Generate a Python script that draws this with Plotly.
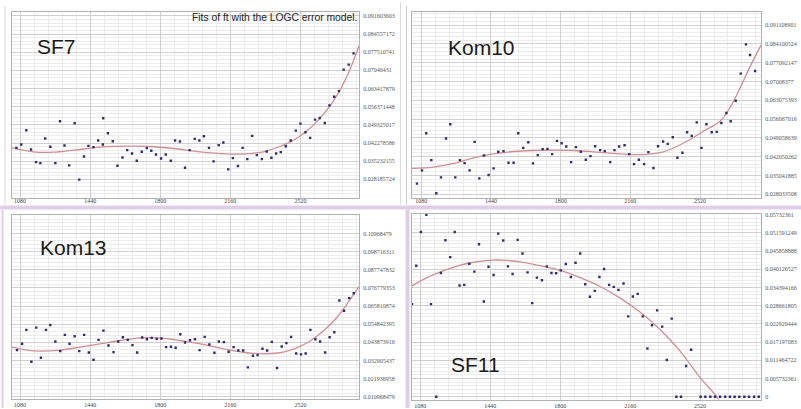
import plotly.graph_objects as go

W, H = 801, 409

# ---------------- data ----------------
X_TICKS = [1080, 1440, 1800, 2160, 2520]
X_TICKTEXT = ["1080", "1440", "1800", "2160", "2520"]

# SF7
sf7_x = [1061, 1086, 1112, 1136, 1162, 1184, 1209, 1235, 1261, 1285,
         1308, 1332, 1360, 1384, 1408, 1431, 1457, 1481, 1505, 1507,
         1531, 1556, 1580, 1606, 1630, 1655, 1679, 1705, 1731, 1754,
         1778, 1804, 1828, 1854, 1876, 1901, 1927, 1951, 1977, 2001,
         2024, 2050, 2074, 2100, 2124, 2149, 2173, 2199, 2223, 2247,
         2272, 2296, 2322, 2347, 2371, 2395, 2419, 2445, 2470, 2496,
         2520, 2546, 2570, 2595, 2619, 2645, 2669, 2693, 2718, 2742,
         2768, 2793]
sf7_y = [0.04041, 0.04170, 0.04723, 0.03977, 0.03488, 0.03449, 0.04401, 0.04080, 0.03449, 0.05070,
         0.04131, 0.03359, 0.04993, 0.02806, 0.03706, 0.04118, 0.04067, 0.04324, 0.04170, 0.05186,
         0.04607, 0.04298, 0.03346, 0.03668, 0.03951, 0.03822, 0.03539, 0.03887, 0.04028, 0.03925,
         0.03784, 0.03629, 0.03784, 0.03539, 0.04324, 0.04285, 0.03269, 0.03951, 0.04388, 0.04324,
         0.04491, 0.04041, 0.03514, 0.04144, 0.04247, 0.03205, 0.03642, 0.03333, 0.04041, 0.03604,
         0.04504, 0.03758, 0.03604, 0.03899, 0.03655, 0.03822, 0.03874, 0.04105, 0.04324, 0.04710,
         0.04980, 0.04645, 0.04427, 0.05134, 0.05199, 0.05006, 0.05687, 0.06022, 0.06240, 0.07077,
         0.07270, 0.07707]
sf7_fit_x = [1038, 1150, 1252, 1355, 1491, 1645, 1748, 1867, 2004, 2141,
             2243, 2329, 2414, 2482, 2551, 2619, 2688, 2756, 2821]
sf7_fit_y = [0.04041, 0.03887, 0.03874, 0.03951, 0.04067, 0.04105, 0.04093, 0.04015, 0.03887, 0.03809,
             0.03809, 0.03887, 0.04093, 0.04324, 0.04684, 0.05173, 0.05842, 0.06768, 0.08003]
sf7_ticktext = ["0.028185724", "0.035232155", "0.042278586", "0.049325017", "0.056371448",
                "0.063417879", "0.07046431", "0.077510741", "0.084557172", "0.091603603"]

# Kom10
kom10_x = [1058, 1084, 1106, 1132, 1158, 1182, 1208, 1230, 1256, 1280,
           1304, 1330, 1356, 1380, 1404, 1428, 1454, 1478, 1505, 1531,
           1557, 1581, 1607, 1633, 1657, 1682, 1707, 1732, 1756, 1781,
           1805, 1829, 1854, 1879, 1904, 1930, 1954, 1978, 2004, 2028,
           2056, 2078, 2102, 2130, 2154, 2179, 2204, 2231, 2253, 2279,
           2303, 2329, 2353, 2379, 2403, 2429, 2453, 2477, 2503, 2527,
           2553, 2580, 2606, 2630, 2656, 2678, 2704, 2730, 2757, 2778,
           2804]
kom10_y = [0.03199, 0.03694, 0.05079, 0.04077, 0.02841, 0.03434, 0.04881, 0.05413, 0.03434, 0.04077,
           0.03966, 0.03694, 0.04758, 0.03397, 0.04251, 0.03521, 0.03768, 0.04387, 0.04411, 0.03979,
           0.03979, 0.05079, 0.04535, 0.04745, 0.03954, 0.04263, 0.04486, 0.04498, 0.04300, 0.04795,
           0.04708, 0.04585, 0.04003, 0.04560, 0.04387, 0.04090, 0.04226, 0.04597, 0.04449, 0.04411,
           0.04003, 0.04449, 0.04585, 0.04634, 0.04300, 0.03929, 0.04090, 0.03929, 0.04374, 0.03781,
           0.04597, 0.04770, 0.04684, 0.04931, 0.04164, 0.04350, 0.05116, 0.04980, 0.05487, 0.04535,
           0.05413, 0.05116, 0.05129, 0.05463, 0.05834, 0.05525, 0.06291, 0.07305, 0.08394, 0.07998,
           0.07404]
kom10_fit_x = [1032, 1144, 1247, 1351, 1454, 1557, 1660, 1781, 1866, 1970,
               2073, 2159, 2245, 2331, 2400, 2468, 2537, 2623, 2675, 2726,
               2778, 2835]
kom10_fit_y = [0.03768, 0.03818, 0.03954, 0.04164, 0.04312, 0.04399, 0.04436, 0.04449, 0.04436, 0.04387,
               0.04325, 0.04288, 0.04288, 0.04387, 0.04585, 0.04844, 0.05154, 0.05524, 0.06044, 0.06761,
               0.07565, 0.08369]
kom10_ticktext = ["0.028033508", "0.035041885", "0.042050262", "0.049058639", "0.056067016",
                  "0.063075393", "0.07008377", "0.077092147", "0.084100524", "0.091108901"]

# Kom13
kom13_x = [1064, 1090, 1112, 1138, 1163, 1187, 1213, 1235, 1261, 1286,
           1310, 1334, 1360, 1384, 1409, 1433, 1457, 1483, 1508, 1534,
           1560, 1584, 1608, 1633, 1657, 1681, 1707, 1731, 1756, 1782,
           1806, 1830, 1855, 1879, 1903, 1927, 1953, 1978, 2002, 2028,
           2052, 2078, 2101, 2127, 2151, 2177, 2201, 2226, 2250, 2276,
           2300, 2325, 2349, 2373, 2400, 2424, 2448, 2472, 2498, 2523,
           2547, 2571, 2597, 2621, 2647, 2670, 2694, 2720, 2744, 2770,
           2794]
kom13_y = [0.03920, 0.04301, 0.05142, 0.03220, 0.05282, 0.03460, 0.05142, 0.05442, 0.04441, 0.03860,
           0.04841, 0.04301, 0.04761, 0.03860, 0.04841, 0.03780, 0.03340, 0.04541, 0.05102, 0.04201,
           0.03800, 0.04441, 0.04701, 0.04541, 0.04221, 0.03780, 0.04681, 0.04581, 0.04661, 0.04601,
           0.04621, 0.04101, 0.04121, 0.04061, 0.04882, 0.04381, 0.04521, 0.04581, 0.03920, 0.04721,
           0.04261, 0.03760, 0.04441, 0.04401, 0.03820, 0.04101, 0.03900, 0.03900, 0.02879, 0.03580,
           0.03620, 0.04000, 0.03900, 0.04421, 0.02839, 0.04141, 0.04341, 0.04721, 0.03720, 0.03660,
           0.03720, 0.05142, 0.04581, 0.04441, 0.03780, 0.04701, 0.05002, 0.06924, 0.06303, 0.07064,
           0.07364]
kom13_fit_x = [1038, 1115, 1184, 1286, 1389, 1491, 1594, 1696, 1782, 1867,
               1953, 2038, 2141, 2243, 2346, 2431, 2500, 2568, 2636, 2705,
               2756, 2821]
kom13_fit_y = [0.04101, 0.03920, 0.03860, 0.03920, 0.04101, 0.04301, 0.04501, 0.04661, 0.04661, 0.04561,
               0.04401, 0.04221, 0.03960, 0.03760, 0.03700, 0.03800, 0.04061, 0.04461, 0.05062, 0.05863,
               0.06664, 0.07765]
kom13_ticktext = ["0.010968479", "0.021936958", "0.032905437", "0.043873916", "0.054842395",
                  "0.065810874", "0.076779353", "0.087747832", "0.098716311", "0.10968479"]

# SF11
sf11_x = [1037, 1059, 1083, 1111, 1135, 1162, 1186, 1209, 1234, 1257,
          1282, 1306, 1332, 1358, 1382, 1407, 1431, 1457, 1481, 1507,
          1531, 1555, 1581, 1606, 1632, 1656, 1680, 1706, 1731, 1755,
          1779, 1803, 1829, 1855, 1879, 1903, 1929, 1953, 1978, 2002,
          2026, 2052, 2076, 2100, 2126, 2150, 2174, 2199, 2225, 2249,
          2273, 2299, 2325, 2349, 2374, 2398, 2422, 2448, 2474,
          2523, 2547, 2573, 2597, 2623, 2649, 2674, 2698, 2722, 2748,
          2772, 2798, 2822]
sf11_y = [0.02918, 0.04127, 0.05190, 0.05732, 0.02918, 0.0, 0.03898, 0.04930, 0.04398, 0.05190,
          0.03502, 0.03523, 0.04190, 0.03940, 0.04805, 0.03002, 0.04096, 0.03836, 0.05138, 0.04919,
          0.04107, 0.03867, 0.04940, 0.04513, 0.03919, 0.02950, 0.03752, 0.03669, 0.04107, 0.03898,
          0.03888, 0.03981, 0.04179, 0.03773, 0.04221, 0.04513, 0.03544, 0.03148, 0.03335, 0.03773,
          0.04023, 0.03523, 0.03460, 0.03367, 0.03565, 0.02533, 0.03158, 0.03241, 0.02533, 0.01522,
          0.02251, 0.02720, 0.02210, 0.01157, 0.02460, 0.0, 0.0, 0.00969, 0.01480,
          0.0, 0.0, 0.0, 0.0, 0.0, 0.0, 0.0, 0.0, 0.0, 0.0,
          0.0, 0.0, 0.0]
sf11_fit_x = [1037, 1114, 1200, 1286, 1371, 1457, 1526, 1611, 1697, 1800,
              1903, 2006, 2109, 2211, 2314, 2417, 2520, 2606, 2640]
sf11_fit_y = [0.03492, 0.03752, 0.03971, 0.04148, 0.04252, 0.04305, 0.04294, 0.04232, 0.04127, 0.03981,
              0.03752, 0.03471, 0.03106, 0.02668, 0.02116, 0.01438, 0.00605, 0.0, -0.0033]
sf11_ticktext = ["0", "0.005732361", "0.011464722", "0.017197083", "0.022929444", "0.028661805",
                 "0.034394166", "0.040126527", "0.045858888", "0.051591249", "0.05732361"]

TITLE = "Fits of ft with the LOGC error model."

# ---------------- layout helpers ----------------
def px(p):
    return p / W


def py(p):
    return 1 - p / H


DOT = "#2e2e6e"
FIT = "#cf8f93"
GRID = "#cfcfcf"
MINOR = "#ececec"
BORDER = "#b2b2b2"

panels = [
    ("SF7", sf7_x, sf7_y, sf7_fit_x, sf7_fit_y, sf7_ticktext, (12, 359), (10, 197),
     [1038.4, 2820.8], [0.02111, 0.09315], -3),
    ("Kom10", kom10_x, kom10_y, kom10_fit_x, kom10_fit_y, kom10_ticktext, (412, 761), (10, 197),
     [1032.4, 2834.6], [0.02680, 0.09606], -3),
    ("Kom13", kom13_x, kom13_y, kom13_fit_x, kom13_fit_y, kom13_ticktext, (12, 359), (214.3, 399.7),
     [1038.4, 2820.8], [0.00977, 0.12110], 0),
    ("SF11", sf11_x, sf11_y, sf11_fit_x, sf11_fit_y, sf11_ticktext, (412, 761), (213.3, 400.5),
     [1037.1, 2833.7], [-0.00088, 0.05764], 0),
]

fig = go.Figure()
layout = dict(
    width=W, height=H,
    margin=dict(l=0, r=0, t=0, b=0),
    paper_bgcolor="white", plot_bgcolor="white",
    showlegend=False,
)

for i, (name, xs, ys, fx, fy, ttext, xd, yd, xr, yr, xstand) in enumerate(panels):
    n = "" if i == 0 else str(i + 1)
    xa, ya = "x" + n, "y" + n
    tvals = [float(t) for t in ttext]
    step = tvals[1] - tvals[0]
    fig.add_trace(go.Scatter(x=fx, y=fy, mode="lines",
                             line=dict(color=FIT, width=1.3, shape="spline", smoothing=1.0),
                             xaxis=xa, yaxis=ya, hoverinfo="skip"))
    fig.add_trace(go.Scatter(x=xs, y=ys, mode="markers",
                             marker=dict(color=DOT, size=2.4, symbol="square", line=dict(width=0)),
                             xaxis=xa, yaxis=ya))
    layout["xaxis" + n] = dict(
        domain=[px(xd[0]), px(xd[1])], range=xr, anchor=ya,
        tickmode="array", tickvals=X_TICKS, ticktext=X_TICKTEXT,
        showgrid=True, gridcolor=GRID, gridwidth=1, zeroline=False,
        showline=True, linecolor=BORDER, linewidth=1, mirror=True, ticks="", ticklen=0,
        ticklabelstandoff=xstand,
        tickfont=dict(family="Liberation Serif", size=6, color="#444"),
        minor=dict(tickmode="linear", tick0=1080, dtick=72, showgrid=True, gridcolor=MINOR, gridwidth=1, ticks=""),
    )
    layout["yaxis" + n] = dict(
        domain=[py(yd[1]), py(yd[0])], range=yr, anchor=xa, side="right",
        tickmode="array", tickvals=tvals, ticktext=ttext,
        showgrid=True, gridcolor=GRID, gridwidth=1, zeroline=False,
        showline=True, linecolor=BORDER, linewidth=1, mirror=True, ticks="", ticklen=0,
        ticklabelstandoff=2,
        tickfont=dict(family="Liberation Serif", size=6, color="#555"),
        minor=dict(tickmode="linear", tick0=tvals[0], dtick=step / 5, showgrid=True, gridcolor=MINOR, gridwidth=1, ticks=""),
    )

label_pos = {"SF7": (56, 44.5), "Kom10": (481.5, 45.5), "Kom13": (73, 247.5), "SF11": (475.5, 365)}
annotations = []
for name, (lx, ly) in label_pos.items():
    annotations.append(dict(text=name, x=px(lx), y=py(ly), xref="paper", yref="paper",
                            xanchor="center", yanchor="middle", showarrow=False,
                            font=dict(family="Liberation Sans", size=21, color="#1b1b1b")))
annotations.append(dict(text=TITLE, x=px(359), y=py(15.5), xref="paper", yref="paper",
                        xanchor="right", yanchor="middle", showarrow=False,
                        font=dict(family="Liberation Sans", size=10.3, color="#222")))
layout["annotations"] = annotations

LAV = "#e2cde9"
shapes = [
    dict(type="rect", xref="paper", yref="paper", x0=0, x1=1, y0=py(209), y1=py(205),
         fillcolor=LAV, line=dict(width=0), layer="above"),
    dict(type="rect", xref="paper", yref="paper", x0=px(405.5), x1=px(409.5), y0=0, y1=py(209),
         fillcolor=LAV, line=dict(width=0), layer="above"),
    dict(type="rect", xref="paper", yref="paper", x0=px(1.5), x1=px(3.5), y0=0, y1=py(209),
         fillcolor=LAV, line=dict(width=0), layer="above"),
    dict(type="line", xref="paper", yref="paper", x0=px(5), x1=px(5), y0=py(204), y1=py(4),
         line=dict(color="#d9d9d9", width=1)),
    dict(type="line", xref="paper", yref="paper", x0=px(400.5), x1=px(400.5), y0=py(204), y1=py(0),
         line=dict(color="#dcdcdc", width=1)),
    dict(type="line", xref="paper", yref="paper", x0=px(406.5), x1=px(406.5), y0=py(204), y1=py(4),
         line=dict(color="#c8c8c8", width=1)),
]
layout["shapes"] = shapes

fig.update_layout(**layout)
fig.write_html("out.html",
               config={"displayModeBar": False, "staticPlot": True},
               post_script="document.body.style.margin='0';document.body.style.padding='0';"
                           "document.documentElement.style.overflow='hidden';")
